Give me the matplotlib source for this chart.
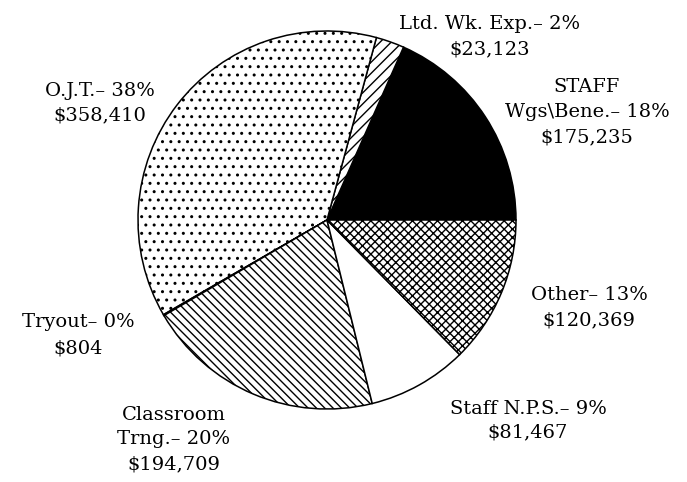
import matplotlib
matplotlib.use("Agg")
import matplotlib.pyplot as plt

categories = ["STAFF Wgs\\Bene.", "Ltd. Wk. Exp.", "O.J.T.", "Tryout", "Classroom Trng.", "Staff N.P.S.", "Other"]
values = [175235, 23123, 358410, 804, 194709, 81467, 120369]
percents = [18, 2, 38, 0, 20, 9, 13]
label_lines = [
    ["STAFF", "Wgs\\Bene.\u2013 18%", "$175,235"],
    ["Ltd. Wk. Exp.\u2013 2%", "$23,123"],
    ["O.J.T.\u2013 38%", "$358,410"],
    ["Tryout\u2013 0%", "$804"],
    ["Classroom", "Trng.\u2013 20%", "$194,709"],
    ["Staff N.P.S.\u2013 9%", "$81,467"],
    ["Other\u2013 13%", "$120,369"],
]

# styles
faces = ["black", "white", "white", "white", "white", "white", "white"]
hatches = [None, "///", "..", None, "\\\\\\\\", None, "xxxx"]
# label anchors in pixel coords: (center x, first-line center y, line step)
label_anchor = [(587, 85, 25), (490, 22, 25), (100, 89, 24),
                (78, 320, 26), (174, 413, 24.5), (528, 407, 23), (589, 293, 25)]

W, H = 687, 482
cx, cy, R = 327, 220, 189

plt.rcParams["hatch.linewidth"] = 1.0
plt.rcParams["hatch.color"] = "black"

fig = plt.figure(figsize=(W / 100, H / 100), dpi=100)
ax = fig.add_axes([0, 0, 1, 1])

wedges, _ = ax.pie(values, startangle=0, counterclock=True, colors=faces,
                   wedgeprops=dict(edgecolor="black", linewidth=1.1))
for w, h in zip(wedges, hatches):
    if h:
        w.set_hatch(h)

ax.set_xlim(-cx / R, (W - cx) / R)
ax.set_ylim(-(H - cy) / R, cy / R)
ax.set_aspect("equal", adjustable="box")
ax.axis("off")

for lines, (px, py, step) in zip(label_lines, label_anchor):
    for i, line in enumerate(lines):
        yy = py + i * step
        ax.text((px - cx) / R, (cy - yy) / R, line, ha="center", va="center_baseline",
                family="DejaVu Serif", fontsize=14, color="black")

fig.savefig("out.png", dpi=100)
